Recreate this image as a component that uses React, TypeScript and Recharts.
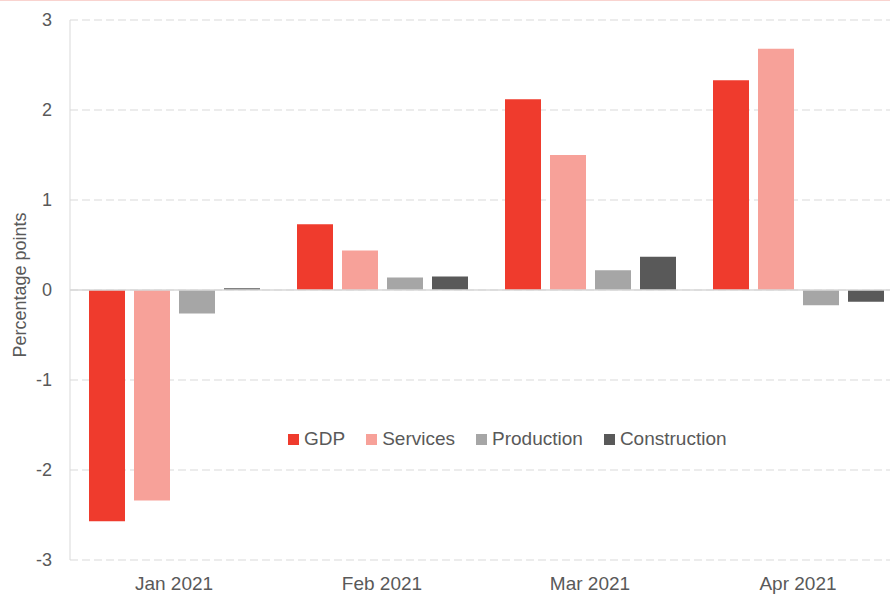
import { BarChart, Bar, XAxis, YAxis, CartesianGrid, ReferenceLine, Legend } from "recharts";

const months = ["Jan 2021", "Feb 2021", "Mar 2021", "Apr 2021"];
const gdp = [-2.57, 0.73, 2.12, 2.33];
const services = [-2.34, 0.44, 1.5, 2.68];
const production = [-0.26, 0.14, 0.22, -0.17];
const construction = [0.02, 0.15, 0.37, -0.13];
const yTicks = [-3, -2, -1, 0, 1, 2, 3];

const series = [
  { key: "GDP", color: "#ef3b2d" },
  { key: "Services", color: "#f7a199" },
  { key: "Production", color: "#a6a6a6" },
  { key: "Construction", color: "#595959" },
];

const data = months.map((month, i) => ({
  month,
  GDP: gdp[i],
  Services: services[i],
  Production: production[i],
  Construction: construction[i],
}));

const FONT = "'Liberation Sans', Arial, sans-serif";
const TEXT = "#595959";
const GRID = "#d9d9d9";

// legend keeps the series order (recharts sorts the payload by name otherwise)
function LegendContent() {
  return (
    <div style={{ display: "flex", alignItems: "center", fontFamily: FONT, fontSize: 19, color: TEXT, whiteSpace: "nowrap" }}>
      {series.map((s, i) => (
        <div key={s.key} style={{ display: "flex", alignItems: "center", marginLeft: i === 0 ? 0 : 21 }}>
          <span style={{ width: 11, height: 11, background: s.color, display: "inline-block", marginRight: 5 }} />
          <span>{s.key}</span>
        </div>
      ))}
    </div>
  );
}

export default function App() {
  return (
    <div style={{ width: 890, height: 599, overflow: "hidden", position: "relative", background: "#fff" }}>
      <style>{`body{margin:0}`}</style>
      <div style={{ position: "absolute", top: 0, left: 0, width: 890, height: 1, background: "#f9d3cf", zIndex: 2 }} />
      <BarChart
        width={902}
        height={599}
        data={data}
        margin={{ top: 20, right: 0, left: 0, bottom: 0 }}
        barSize={36}
        barGap={9}
      >
        <CartesianGrid vertical={false} stroke={GRID} strokeDasharray="8 4" />
        <XAxis
          dataKey="month"
          height={39}
          axisLine={false}
          tickLine={false}
          tickSize={0}
          tickMargin={17}
          tick={{ fill: TEXT, fontSize: 19, fontFamily: FONT }}
        />
        <YAxis
          width={70}
          domain={[-3, 3]}
          ticks={yTicks}
          interval={0}
          axisLine={{ stroke: GRID }}
          tickLine={false}
          tickSize={0}
          tickMargin={18}
          tick={{ fill: TEXT, fontSize: 18, fontFamily: FONT }}
          label={{
            value: "Percentage points",
            angle: -90,
            position: "insideLeft",
            dx: 15,
            dy: -5,
            style: { fill: TEXT, fontSize: 18, fontFamily: FONT, textAnchor: "middle" },
          }}
        />
        <ReferenceLine y={0} stroke={GRID} strokeWidth={1.5} />
        <Legend
          layout="horizontal"
          verticalAlign="middle"
          align="center"
          content={<LegendContent />}
          wrapperStyle={{ left: 288, top: 428, width: "auto" }}
        />
        {series.map((s) => (
          <Bar key={s.key} dataKey={s.key} fill={s.color} isAnimationActive={false} />
        ))}
      </BarChart>
    </div>
  );
}
